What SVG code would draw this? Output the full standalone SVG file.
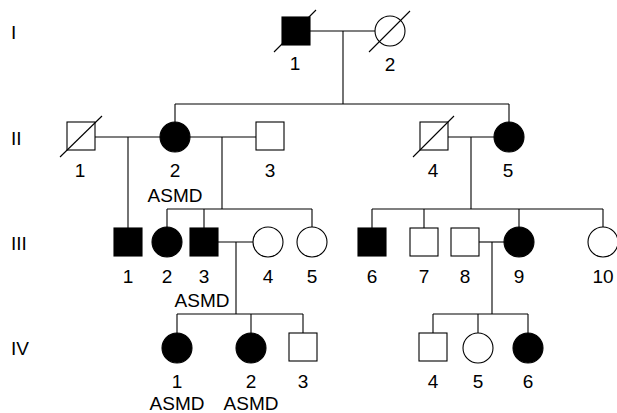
<svg xmlns="http://www.w3.org/2000/svg" width="617" height="413" viewBox="0 0 617 413">
  <style>
    .ln { stroke: #000; stroke-width: 1.1; fill: none; }
    .open { fill: #fff; stroke: #000; stroke-width: 1.1; }
    .aff { fill: #000; stroke: #000; stroke-width: 1.1; }
    .dead { stroke: #000; stroke-width: 1.1; }
    text { font-family: "Liberation Sans", Arial, sans-serif; font-size: 19px; fill: #000; }
    .num { text-anchor: middle; }
  </style>
  <rect width="617" height="413" fill="#fff"/>

  <!-- generation labels -->
  <g id="generations">
    <text x="11" y="39">I</text>
    <text x="11" y="145">II</text>
    <text x="11" y="250">III</text>
    <text x="11" y="355">IV</text>
  </g>

  <!-- mating, descent and sibship lines -->
  <g id="connectors" class="ln">
    <!-- generation I -->
    <line x1="310" y1="31" x2="375" y2="31"/>
    <line x1="343" y1="31" x2="343" y2="104"/>
    <line x1="175" y1="104" x2="509" y2="104"/>
    <line x1="175" y1="104" x2="175" y2="122"/>
    <line x1="509" y1="104" x2="509" y2="122"/>
    <!-- generation II, left family -->
    <line x1="95" y1="137" x2="160" y2="137"/>
    <line x1="190" y1="137" x2="256" y2="137"/>
    <line x1="128" y1="137" x2="128" y2="228"/>
    <line x1="222" y1="137" x2="222" y2="209"/>
    <line x1="167" y1="209" x2="312" y2="209"/>
    <line x1="167" y1="209" x2="167" y2="227"/>
    <line x1="204" y1="209" x2="204" y2="228"/>
    <line x1="312" y1="209" x2="312" y2="227"/>
    <!-- generation II, right family -->
    <line x1="448" y1="137" x2="494" y2="137"/>
    <line x1="471" y1="137" x2="471" y2="209"/>
    <line x1="372" y1="209" x2="603" y2="209"/>
    <line x1="372" y1="209" x2="372" y2="228"/>
    <line x1="424" y1="209" x2="424" y2="228"/>
    <line x1="519" y1="209" x2="519" y2="227"/>
    <line x1="603" y1="209" x2="603" y2="227"/>
    <!-- generation III, left couple -->
    <line x1="218" y1="242" x2="253" y2="242"/>
    <line x1="236" y1="242" x2="236" y2="314"/>
    <line x1="177" y1="314" x2="303" y2="314"/>
    <line x1="177" y1="314" x2="177" y2="333"/>
    <line x1="251" y1="314" x2="251" y2="333"/>
    <line x1="303" y1="314" x2="303" y2="333"/>
    <!-- generation III, right couple -->
    <line x1="479" y1="242" x2="504" y2="242"/>
    <line x1="492" y1="242" x2="492" y2="314"/>
    <line x1="433" y1="314" x2="528" y2="314"/>
    <line x1="433" y1="314" x2="433" y2="333"/>
    <line x1="478" y1="314" x2="478" y2="333"/>
    <line x1="528" y1="314" x2="528" y2="333"/>
  </g>

  <!-- generation I -->
  <g id="I-1">
    <rect class="aff" x="282" y="17" width="28" height="28"/>
    <line class="dead" x1="274" y1="52" x2="316" y2="10"/>
    <text class="num" x="295" y="70">1</text>
  </g>
  <g id="I-2">
    <circle class="open" cx="390" cy="31" r="15"/>
    <line class="dead" x1="369" y1="52" x2="410" y2="11"/>
    <text class="num" x="390" y="71">2</text>
  </g>

  <!-- generation II -->
  <g id="II-1">
    <rect class="open" x="67" y="122" width="28" height="28"/>
    <line class="dead" x1="60" y1="157" x2="102" y2="116"/>
    <text class="num" x="80" y="177">1</text>
  </g>
  <g id="II-2">
    <circle class="aff" cx="175" cy="137" r="15"/>
    <text class="num" x="175" y="177">2</text>
    <text class="num" x="175" y="202">ASMD</text>
  </g>
  <g id="II-3">
    <rect class="open" x="256" y="122" width="28" height="28"/>
    <text class="num" x="270" y="177">3</text>
  </g>
  <g id="II-4">
    <rect class="open" x="420" y="122" width="28" height="28"/>
    <line class="dead" x1="413" y1="157" x2="454" y2="116"/>
    <text class="num" x="433" y="177">4</text>
  </g>
  <g id="II-5">
    <circle class="aff" cx="509" cy="137" r="15"/>
    <text class="num" x="508" y="177">5</text>
  </g>

  <!-- generation III -->
  <g id="III-1">
    <rect class="aff" x="114" y="228" width="28" height="28"/>
    <text class="num" x="128" y="283">1</text>
  </g>
  <g id="III-2">
    <circle class="aff" cx="167" cy="242" r="15"/>
    <text class="num" x="167" y="283">2</text>
  </g>
  <g id="III-3">
    <rect class="aff" x="190" y="228" width="28" height="28"/>
    <text class="num" x="204" y="283">3</text>
    <text class="num" x="202" y="307">ASMD</text>
  </g>
  <g id="III-4">
    <circle class="open" cx="268" cy="242" r="15"/>
    <text class="num" x="268" y="283">4</text>
  </g>
  <g id="III-5">
    <circle class="open" cx="312" cy="242" r="15"/>
    <text class="num" x="312" y="283">5</text>
  </g>
  <g id="III-6">
    <rect class="aff" x="358" y="228" width="28" height="28"/>
    <text class="num" x="372" y="283">6</text>
  </g>
  <g id="III-7">
    <rect class="open" x="410" y="228" width="28" height="28"/>
    <text class="num" x="424" y="283">7</text>
  </g>
  <g id="III-8">
    <rect class="open" x="451" y="228" width="28" height="28"/>
    <text class="num" x="465" y="283">8</text>
  </g>
  <g id="III-9">
    <circle class="aff" cx="519" cy="242" r="15"/>
    <text class="num" x="519" y="283">9</text>
  </g>
  <g id="III-10">
    <circle class="open" cx="603" cy="242" r="15"/>
    <text class="num" x="603" y="283">10</text>
  </g>

  <!-- generation IV -->
  <g id="IV-1">
    <circle class="aff" cx="177" cy="348" r="15"/>
    <text class="num" x="177" y="388">1</text>
    <text class="num" x="177" y="410">ASMD</text>
  </g>
  <g id="IV-2">
    <circle class="aff" cx="251" cy="348" r="15"/>
    <text class="num" x="251" y="388">2</text>
    <text class="num" x="251" y="410">ASMD</text>
  </g>
  <g id="IV-3">
    <rect class="open" x="289" y="333" width="28" height="28"/>
    <text class="num" x="303" y="388">3</text>
  </g>
  <g id="IV-4">
    <rect class="open" x="419" y="333" width="28" height="28"/>
    <text class="num" x="433" y="388">4</text>
  </g>
  <g id="IV-5">
    <circle class="open" cx="478" cy="348" r="15"/>
    <text class="num" x="478" y="388">5</text>
  </g>
  <g id="IV-6">
    <circle class="aff" cx="528" cy="348" r="15"/>
    <text class="num" x="528" y="388">6</text>
  </g>
</svg>
